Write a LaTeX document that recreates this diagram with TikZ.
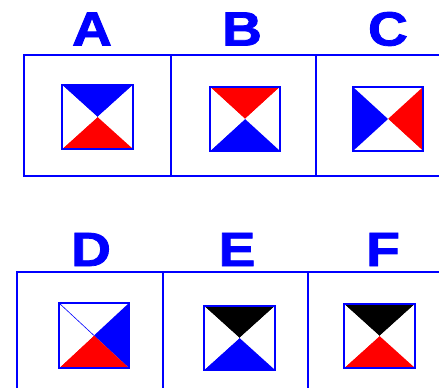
\documentclass[tikz,border=0pt]{standalone}
\usepackage{fontspec}
\setmainfont{Liberation Sans}
\newfontfamily\heavyfont[FakeBold=1.6]{Liberation Sans Bold}
\usetikzlibrary{calc}
\definecolor{fb}{RGB}{0,0,255}
\definecolor{fr}{RGB}{255,0,0}
\definecolor{fk}{RGB}{0,0,0}
\definecolor{fw}{RGB}{255,255,255}
\tikzset{
  letter/.style={text=fb,font=\heavyfont\fontsize{48}{48}\selectfont,anchor=base,xscale=1.15,inner sep=0pt},
  frame/.style={draw=fb,line width=1.4pt},
  inner/.style={draw=fb,line width=1.8pt},
}
% #1 name, #2 x1, #3 y1, #4 x2, #5 y2, #6 top, #7 right, #8 bottom, #9 left
\newcommand\myflag[9]{%
  \coordinate (#1tl) at (#2,#3);
  \coordinate (#1br) at (#4,#5);
  \coordinate (#1tr) at (#4,#3);
  \coordinate (#1bl) at (#2,#5);
  \coordinate (#1c) at ($(#1tl)!0.5!(#1br)$);
  \fill[#6] (#1tl) -- (#1tr) -- (#1c) -- cycle;
  \fill[#7] (#1tr) -- (#1br) -- (#1c) -- cycle;
  \fill[#8] (#1br) -- (#1bl) -- (#1c) -- cycle;
  \fill[#9] (#1bl) -- (#1tl) -- (#1c) -- cycle;
  \draw[inner] (#1tl) rectangle (#1br);
}
\begin{document}
\begin{tikzpicture}[x=1pt,y=-1pt]
\useasboundingbox (0,0) rectangle (439,388);
\clip (0,0) rectangle (439,388);
% top row frame
\draw[frame] (24,55) rectangle (460,176);
\draw[frame] (171,55) -- (171,176);
\draw[frame] (316,55) -- (316,176);
% bottom row frame
\draw[frame] (17,272) rectangle (460,400);
\draw[frame] (163,272) -- (163,400);
\draw[frame] (308,272) -- (308,400);
% letters
\node[letter] (lA) at (92,45.5) {A};
\node[letter] (lB) at (242,45.5) {B};
\node[letter] (lC) at (388,45.5) {C};
\node[letter] (lD) at (91,266) {D};
\node[letter] (lE) at (237,266) {E};
\node[letter] (lF) at (383,266) {F};
% flags
\myflag{a}{62}{85}{133}{149}{fb}{fw}{fr}{fw}
\myflag{b}{210}{87}{280}{151}{fr}{fw}{fb}{fw}
\myflag{c}{353}{87}{423}{151}{fw}{fr}{fw}{fb}
\myflag{d}{59}{303}{129}{368}{fw}{fb}{fr}{fw}
\draw[fb,line width=0.6pt] (dtl) -- (dc);
\myflag{e}{204}{306}{275}{370}{fk}{fw}{fb}{fw}
\myflag{f}{344}{304}{415}{368}{fk}{fw}{fr}{fw}
\end{tikzpicture}
\end{document}
